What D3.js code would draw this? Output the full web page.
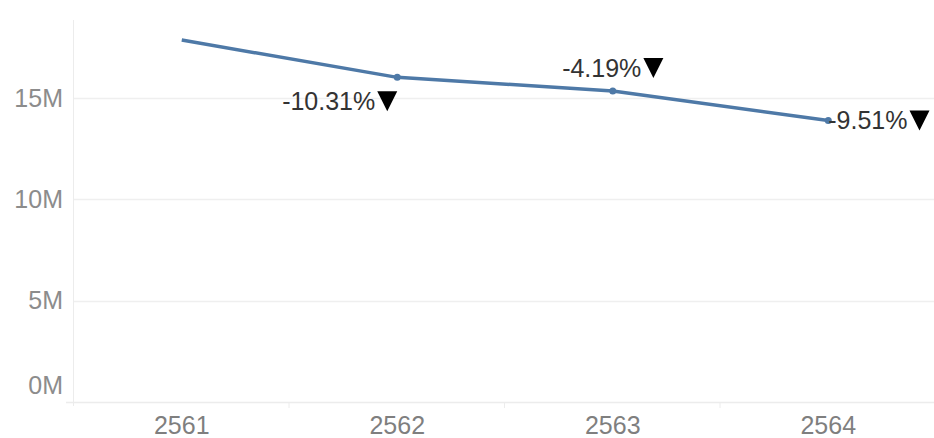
<!DOCTYPE html>
<html>
<head>
<meta charset="utf-8">
<script src="https://cdn.jsdelivr.net/npm/d3@7"></script>
<style>
  body { margin: 0; background: #fff; }
  svg { display: block; font-family: "Liberation Sans", Arial, sans-serif; }
</style>
</head>
<body>
<div id="chart"></div>
<script>
(function () {
  // Datos
  const years = ['2561', '2562', '2563', '2564']
  const values = [17.86e6, 16.02e6, 15.35e6, 13.89e6]
  const changes = [null, '-10.31%', '-4.19%', '-9.51%']
  const yTicks = [0, 5e6, 10e6, 15e6]

  const WIDTH = 934
  const HEIGHT = 438
  const MARGIN = { TOP: 20, BOTTOM: 36, LEFT: 74, RIGHT: -2 }
  const TRI = 20

  const svg = d3.select('#chart').append('svg')
    .attr('width', WIDTH)
    .attr('height', HEIGHT)

  const x = d3.scaleBand()
    .domain(years)
    .range([MARGIN.LEFT, WIDTH - MARGIN.RIGHT])

  const y = d3.scaleLinear()
    .domain([0, 18.85e6])
    .range([HEIGHT - MARGIN.BOTTOM, MARGIN.TOP])

  // Grilla horizontal
  svg.selectAll('.grid')
    .data(yTicks.filter(d => d > 0))
    .enter()
    .append('line')
    .attr('x1', MARGIN.LEFT)
    .attr('x2', WIDTH)
    .attr('y1', d => Math.round(y(d)) + 0.5)
    .attr('y2', d => Math.round(y(d)) + 0.5)
    .style('stroke', '#efefef')
    .style('stroke-width', 1.5)

  // Eje y (linea)
  svg.append('line')
    .attr('x1', MARGIN.LEFT - 0.5).attr('x2', MARGIN.LEFT - 0.5)
    .attr('y1', MARGIN.TOP).attr('y2', y(0) + 4)
    .style('stroke', '#ececec')
    .style('stroke-width', 1)

  // Eje x (linea base)
  svg.append('line')
    .attr('x1', 66).attr('x2', WIDTH)
    .attr('y1', Math.round(y(0)) + 0.5).attr('y2', Math.round(y(0)) + 0.5)
    .style('stroke', '#ececec')
    .style('stroke-width', 1.5)

  // Divisores de categorias
  svg.selectAll('.divider')
    .data(years.slice(1))
    .enter()
    .append('line')
    .attr('x1', d => x(d) - 0.5)
    .attr('x2', d => x(d) - 0.5)
    .attr('y1', y(0))
    .attr('y2', y(0) + 6)
    .style('stroke', '#ececec')

  // Etiquetas eje y
  svg.selectAll('.ylabel')
    .data(yTicks)
    .enter()
    .append('text')
    .attr('x', 63)
    .attr('y', d => d === 0 ? y(0) - 17 : y(d))
    .attr('dy', '0.35em')
    .attr('text-anchor', 'end')
    .style('font-size', '25px')
    .style('fill', '#8c8c8c')
    .text(d => d3.format('d')(d / 1e6) + 'M')

  // Etiquetas eje x
  svg.selectAll('.xlabel')
    .data(years)
    .enter()
    .append('text')
    .attr('x', d => x(d) + x.bandwidth() / 2)
    .attr('y', 425)
    .attr('dy', '0.35em')
    .attr('text-anchor', 'middle')
    .style('font-size', '25px')
    .style('fill', '#7f7f7f')
    .text(d => d)

  const points = years.map((yr, i) => ({ year: yr, value: values[i], change: changes[i], i }))

  // Linea
  const line = d3.line()
    .x(d => x(d.year) + x.bandwidth() / 2)
    .y(d => y(d.value))

  svg.append('path')
    .datum(points)
    .attr('d', line)
    .style('fill', 'none')
    .style('stroke', '#4e79a7')
    .style('stroke-width', 3.5)
    .style('stroke-linejoin', 'round')

  svg.selectAll('.dot')
    .data(points.filter(d => d.change))
    .enter()
    .append('circle')
    .attr('cx', d => x(d.year) + x.bandwidth() / 2)
    .attr('cy', d => y(d.value))
    .attr('r', 3.5)
    .style('fill', '#4e79a7')

  // Etiquetas de cambio (texto + triangulo)
  const labels = svg.selectAll('.change')
    .data(points.filter(d => d.change))
    .enter()
    .append('g')

  labels.each(function (d) {
    const g = d3.select(this)
    const t = g.append('text')
      .attr('dy', '0.35em')
      .style('font-size', '25px')
      .style('fill', '#333')
      .text(d.change)
    const w = t.node().getComputedTextLength() + 2 + TRI
    const cx = x(d.year) + x.bandwidth() / 2
    const cy = y(d.value)
    let left, mid
    if (d.i === 1) { left = cx - w; mid = cy + 24 }
    else if (d.i === 2) { left = cx - w / 2; mid = cy - 23 }
    else { left = cx; mid = cy }
    t.attr('x', left).attr('y', mid)
    const tx = left + w - TRI
    g.append('path')
      .attr('d', `M${tx},${mid - 10} L${tx + TRI},${mid - 10} L${tx + TRI / 2},${mid + 10} Z`)
      .style('fill', '#000')
  })
})()
</script>
</body>
</html>
